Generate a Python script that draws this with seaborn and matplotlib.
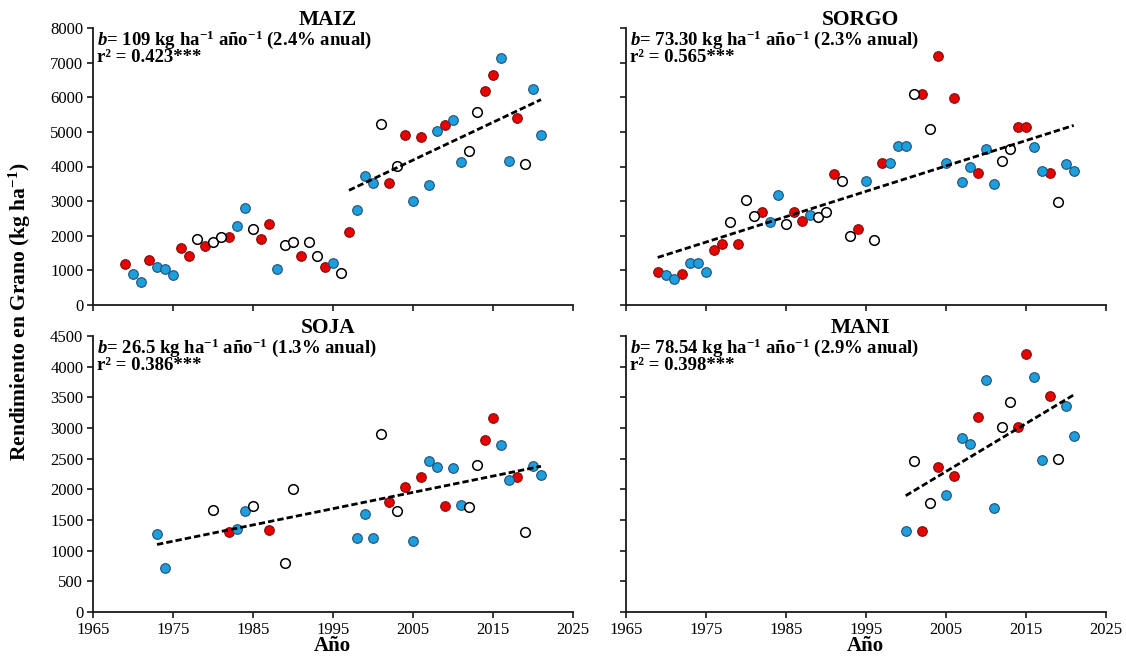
import numpy as np
import pandas as pd
import matplotlib
matplotlib.use("Agg")
import matplotlib.pyplot as plt
import seaborn as sns

# Campaign years and ENSO phase of each year (r = Niño, b = Niña, o = neutral)
anios = [1969, 1970, 1971, 1972, 1973, 1974, 1975, 1976, 1977, 1978,
         1979, 1980, 1981, 1982, 1983, 1984, 1985, 1986, 1987, 1988,
         1989, 1990, 1991, 1992, 1993, 1994, 1995, 1996, 1997, 1998,
         1999, 2000, 2001, 2002, 2003, 2004, 2005, 2006, 2007, 2008,
         2009, 2010, 2011, 2012, 2013, 2014, 2015, 2016, 2017, 2018,
         2019, 2020, 2021]
fase = ["r", "b", "b", "r", "b", "b", "b", "r", "r", "o",
        "r", "o", "o", "r", "b", "b", "o", "r", "r", "b",
        "o", "o", "r", "o", "o", "r", "b", "o", "r", "b",
        "b", "b", "o", "r", "o", "r", "b", "r", "b", "b",
        "r", "b", "b", "o", "o", "r", "r", "b", "b", "r",
        "o", "b", "b"]

nan = np.nan
# Grain yield (kg/ha) per year
maiz = [1170, 900, 650, 1310, 1100, 1050, 860, 1650, 1420, 1900,
        1690, 1820, 1960, 1950, 2290, 2790, 2190, 1910, 2350, 1040,
        1740, 1810, 1420, 1820, 1410, 1100, 1210, 920, 2120, 2730,
        3730, 3520, 5220, 3520, 4020, 4910, 3000, 4850, 3470, 5030,
        5200, 5350, 4130, 4450, 5580, 6170, 6650, 7120, 4170, 5410,
        4060, 6230, 4910]
sorgo = [960, 870, 740, 890, 1200, 1200, 945, 1580, 1770, 2400,
         1770, 3040, 2570, 2680, 2390, 3190, 2330, 2680, 2430, 2590,
         2540, 2680, 3790, 3580, 1990, 2190, 3580, 1880, 4100, 4100,
         4600, 4600, 6080, 6080, 5090, 7180, 4100, 5980, 3560, 3990,
         3810, 4500, 3490, 4170, 4500, 5140, 5140, 4570, 3870, 3820,
         2980, 4070, 3880]
soja = [nan, nan, nan, nan, 1265, 725, nan, nan, nan, nan,
        nan, 1660, nan, 1300, 1355, 1645, 1725, nan, 1330, nan,
        800, 2000, nan, nan, nan, nan, nan, nan, nan, 1200,
        1600, 1200, 2900, 1800, 1650, 2035, 1160, 2205, 2455, 2370,
        1730, 2355, 1740, 1720, 2395, 2800, 3165, 2720, 2150, 2195,
        1305, 2380, 2235]
mani = [nan, nan, nan, nan, nan, nan, nan, nan, nan, nan,
        nan, nan, nan, nan, nan, nan, nan, nan, nan, nan,
        nan, nan, nan, nan, nan, nan, nan, nan, nan, nan,
        nan, 1315, 2465, 1315, 1780, 2360, 1905, 2215, 2835, 2745,
        3175, 3780, 1690, 3015, 3420, 3015, 4205, 3835, 2475, 3520,
        2500, 3355, 2875]

cultivos = ["MAIZ", "SORGO", "SOJA", "MANI"]
pendientes = ["109", "73.30", "26.5", "78.54"]
tasas = ["2.4", "2.3", "1.3", "2.9"]
r2 = ["0.423", "0.565", "0.386", "0.398"]
inicio_tendencia = [1997, 1969, 1969, 1969]
x_ticks = [1965, 1975, 1985, 1995, 2005, 2015, 2025]
y_ticks_top = [0, 1000, 2000, 3000, 4000, 5000, 6000, 7000, 8000]
y_ticks_bottom = [0, 500, 1000, 1500, 2000, 2500, 3000, 3500, 4000, 4500]

sns.set_style("white")
plt.rcParams["font.family"] = ["Liberation Serif", "DejaVu Serif"]
plt.rcParams["mathtext.fontset"] = "custom"
plt.rcParams["mathtext.rm"] = "Liberation Serif:bold"
plt.rcParams["mathtext.bf"] = "Liberation Serif:bold"
plt.rcParams["mathtext.it"] = "Liberation Serif:bold:italic"
plt.rcParams["text.color"] = "black"
plt.rcParams["axes.labelcolor"] = "black"
plt.rcParams["xtick.color"] = "black"
plt.rcParams["ytick.color"] = "black"

colores = {"r": "#E80000", "b": "#1E9FDD", "o": "white"}
bordes = {"r": "#7a1010", "b": "#1f4f75", "o": "black"}

fig = plt.figure(figsize=(11.26, 6.65), dpi=100)
W, H = 1126, 665
posiciones = [
    (93 / W, 1 - 305 / H, 480 / W, 277 / H),
    (625.7 / W, 1 - 305 / H, 480 / W, 277 / H),
    (93 / W, 1 - 612 / H, 480 / W, 276 / H),
    (625.7 / W, 1 - 612 / H, 480 / W, 276 / H),
]
series = [maiz, sorgo, soja, mani]

for i, (nombre, valores) in enumerate(zip(cultivos, series)):
    ax = fig.add_axes(posiciones[i])
    df = pd.DataFrame({"anio": anios, "rend": valores, "fase": fase}).dropna()
    for f in ["r", "b", "o"]:
        sub = df[df["fase"] == f]
        sns.scatterplot(data=sub, x="anio", y="rend", ax=ax, s=48,
                        color=colores[f], edgecolor=bordes[f],
                        linewidth=1.1 if f == "o" else 0.8, zorder=3,
                        legend=False)
    tend = df[df["anio"] >= inicio_tendencia[i]]
    sns.regplot(data=tend, x="anio", y="rend", ax=ax, scatter=False, ci=None,
                truncate=True,
                line_kws=dict(color="black", lw=2.0, dashes=(2.3, 1.1), zorder=4))

    top = i < 2
    ax.set_xlim(1965, 2025)
    ax.set_ylim(0, 8000 if top else 4500)
    ax.set_xticks(x_ticks)
    ax.set_yticks(y_ticks_top if top else y_ticks_bottom)
    if top:
        ax.set_xticklabels([])
    if i % 2 == 1:
        ax.set_yticklabels([])
    ax.set_xlabel("")
    ax.set_ylabel("")
    for s in ["top", "right"]:
        ax.spines[s].set_visible(False)
    for s in ["left", "bottom"]:
        ax.spines[s].set_color("#1a1a1a")
        ax.spines[s].set_linewidth(1.3)
    ax.tick_params(axis="both", direction="out", length=4, width=1.2,
                   color="#1a1a1a", labelcolor="black", labelsize=12, pad=3,
                   left=True, bottom=True)
    ax.patch.set_alpha(0)

    ax.text(0.49, 1.028, nombre, transform=ax.transAxes, ha="center",
            va="center", fontsize=15.5, fontweight="bold")
    ax.text(0.008, 0.958,
            r"$b$= " + pendientes[i] + r" kg ha$^{-1}$ año$^{-1}$ (" + tasas[i] + "% anual)",
            transform=ax.transAxes, ha="left", va="center", fontsize=13.5,
            fontweight="bold")
    ax.text(0.008, 0.893, "r² = " + r2[i] + "***", transform=ax.transAxes,
            ha="left", va="center", fontsize=13.5, fontweight="bold")

fig.text(20 / W, 1 - 312 / H, r"Rendimiento en Grano (kg ha$^{-1}$)",
         rotation=90, ha="center", va="center", fontsize=15.5, fontweight="bold")
fig.text(332 / W, 1 - 646 / H, "Año", ha="center", va="center",
         fontsize=15, fontweight="bold")
fig.text(865 / W, 1 - 646 / H, "Año", ha="center", va="center",
         fontsize=15, fontweight="bold")

fig.savefig("out.png", dpi=100, facecolor="white")
